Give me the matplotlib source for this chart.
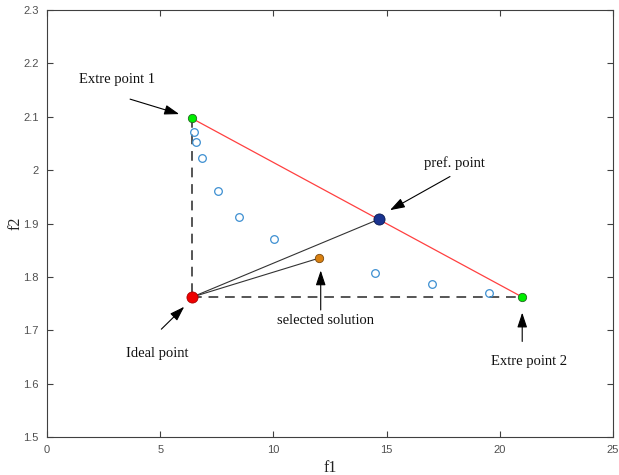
import matplotlib
matplotlib.use("Agg")
import matplotlib.pyplot as plt

# Data
pareto_f1 = [6.49, 6.58, 6.85, 7.55, 8.48, 10.03, 14.49, 17.0, 19.52]
pareto_f2 = [2.071, 2.053, 2.023, 1.961, 1.912, 1.871, 1.807, 1.787, 1.770]
extreme1 = (6.4, 2.097)
extreme2 = (21.0, 1.762)
ideal = (6.4, 1.762)
pref = (14.66, 1.908)
selected = (12.01, 1.835)

labels = ["Extre point 1", "pref. point", "Ideal point", "selected solution", "Extre point 2"]
label_pos = [(3.09, 2.169), (17.98, 2.013), (4.86, 1.657), (12.28, 1.719), (21.29, 1.641)]
arrow_start = [(3.67, 2.133), (17.80, 1.988), (5.05, 1.702), (12.09, 1.738), (20.99, 1.679)]
arrow_end = [(5.84, 2.105), (15.15, 1.925), (6.06, 1.744), (12.09, 1.812), (20.99, 1.733)]

xticks = [0, 5, 10, 15, 20, 25]
yticks = [1.5, 1.6, 1.7, 1.8, 1.9, 2.0, 2.1, 2.2, 2.3]
ytick_labels = ["1.5", "1.6", "1.7", "1.8", "1.9", "2", "2.1", "2.2", "2.3"]

fig = plt.figure(figsize=(6.19, 4.75), dpi=100)
ax = fig.add_axes([47/619, 38/475, 566/619, 427/475])

# lines
ax.plot([extreme1[0], extreme2[0]], [extreme1[1], extreme2[1]], color="#ff4040", lw=0.9, zorder=2)
ax.plot([extreme1[0], ideal[0]], [extreme1[1], ideal[1]], color="#555555", lw=1.4, ls=(0, (5, 3.5)), zorder=2)
ax.plot([ideal[0], extreme2[0]], [ideal[1], extreme2[1]], color="#555555", lw=1.4, ls=(0, (5, 3.5)), zorder=2)
ax.plot([ideal[0], pref[0]], [ideal[1], pref[1]], color="#333333", lw=0.8, zorder=2)
ax.plot([ideal[0], selected[0]], [ideal[1], selected[1]], color="#333333", lw=0.8, zorder=2)

# pareto points
ax.plot(pareto_f1, pareto_f2, ls="none", marker="o", ms=5.5, mfc="none", mec="#3d8fd1", mew=0.9, zorder=3)

# special points
ax.plot(*extreme1, marker="o", ms=6, mfc="#00ee00", mec="#226622", mew=0.6, zorder=4)
ax.plot(*extreme2, marker="o", ms=6, mfc="#00ee00", mec="#226622", mew=0.6, zorder=4)
ax.plot(*ideal, marker="o", ms=8, mfc="#ee0000", mec="#aa0000", mew=0.6, zorder=4)
ax.plot(*pref, marker="o", ms=8, mfc="#1a3390", mec="#0a1a50", mew=0.6, zorder=4)
ax.plot(*selected, marker="o", ms=6, mfc="#d98010", mec="#7a4a10", mew=0.6, zorder=4)

# annotations
for lab, tp, s, e in zip(labels, label_pos, arrow_start, arrow_end):
    ax.text(tp[0], tp[1], lab, family="Liberation Serif", fontsize=10.5,
            ha="center", va="center", color="#111111")
    ax.annotate("", xy=e, xytext=s,
                arrowprops=dict(arrowstyle="-|>,head_length=0.9,head_width=0.3",
                                color="black", lw=0.8, shrinkA=0, shrinkB=0))

ax.set_xlim(0, 25)
ax.set_ylim(1.5, 2.3)
ax.set_xticks(xticks)
ax.set_yticks(yticks)
ax.set_yticklabels(ytick_labels)
ax.tick_params(direction="in", length=4, width=0.8, colors="#404040", labelsize=8,
               top=True, right=True, labelcolor="#505050")
ax.tick_params(axis="x", pad=6)
ax.tick_params(axis="y", pad=6)
for lab in ax.get_xticklabels() + ax.get_yticklabels():
    lab.set_family("Liberation Sans")
for sp in ax.spines.values():
    sp.set_color("#404040")
    sp.set_linewidth(0.8)

ax.set_xlabel("f1", family="Liberation Serif", fontsize=11.5, color="#222222", labelpad=3)
ax.set_ylabel("f2", family="Liberation Serif", fontsize=11.5, color="#222222", labelpad=0)

fig.savefig("out.png", dpi=100)
